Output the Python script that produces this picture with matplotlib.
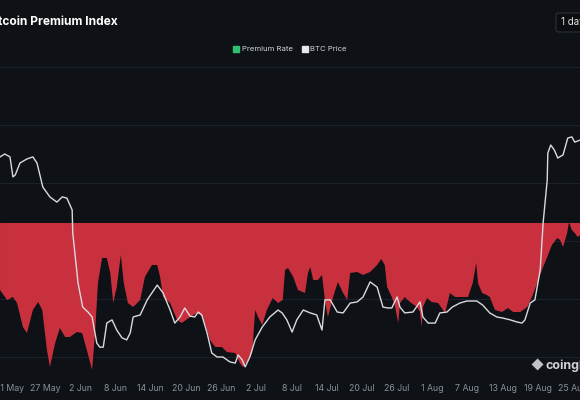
import matplotlib
matplotlib.use("Agg")
import matplotlib.pyplot as plt
from matplotlib.lines import Line2D
from matplotlib.patches import FancyBboxPatch
import numpy as np
import pandas as pd

plt.rcParams['font.family'] = ['Inter', 'DejaVu Sans']

start = pd.Timestamp("2024-05-21")

# premium rate (%), x = days after 21 May
premium_days = [-1.7, -0.5, 0.5, 1.2, 2.2, 2.9, 3.9, 4.8, 5.5, 6.3, 6.8, 7.7, 8.5, 9.4,
                10.2, 11.4, 12.3, 13.1, 14.0, 14.5, 15.0, 15.7, 16.5, 17.1, 17.6, 18.2,
                18.9, 19.4, 20.1, 21.0, 22.2, 23.0, 24.2, 25.1, 25.6, 26.1, 27.3, 28.5,
                29.3, 30.7, 31.9, 32.9, 34.1, 35.0, 36.1, 37.0, 38.4, 39.2, 39.7, 40.6,
                41.3, 41.8, 42.3, 43.0, 43.8, 44.8, 45.7, 46.5, 46.9, 47.4, 48.3, 49.1,
                50.3, 50.8, 51.2, 51.7, 52.5, 53.2, 53.7, 54.2, 55.1, 55.9, 56.8, 57.5,
                58.0, 59.2, 60.2, 61.4, 62.6, 63.3, 63.9, 64.3, 65.1, 65.6, 66.2, 66.5,
                67.3, 68.2, 69.4, 69.9, 70.2, 70.4, 71.1, 71.9, 73.0, 74.2, 75.0, 75.9,
                77.1, 78.1, 78.9, 79.5, 79.8, 80.5, 81.3, 81.8, 82.7, 83.9, 84.9, 85.8,
                87.0, 88.2, 89.0, 89.9, 90.7, 91.6, 92.4, 93.3, 93.8, 94.3, 95.0, 95.3,
                95.8, 96.3, 96.8, 97.2]
premium_rate = [-0.067, -0.077, -0.074, -0.080, -0.104, -0.110, -0.087, -0.079, -0.087,
                -0.127, -0.144, -0.120, -0.105, -0.114, -0.114, -0.109, -0.110, -0.127,
                -0.147, -0.110, -0.060, -0.035, -0.035, -0.050, -0.080, -0.064, -0.032,
                -0.060, -0.080, -0.084, -0.077, -0.054, -0.042, -0.042, -0.054, -0.074,
                -0.080, -0.097, -0.100, -0.094, -0.090, -0.094, -0.117, -0.124, -0.124,
                -0.129, -0.130, -0.140, -0.144, -0.137, -0.130, -0.087, -0.094, -0.102,
                -0.087, -0.075, -0.080, -0.077, -0.047, -0.045, -0.054, -0.067, -0.070,
                -0.050, -0.044, -0.057, -0.057, -0.052, -0.077, -0.094, -0.074, -0.059,
                -0.070, -0.077, -0.050, -0.049, -0.052, -0.049, -0.042, -0.036, -0.042,
                -0.064, -0.074, -0.082, -0.100, -0.080, -0.074, -0.079, -0.084, -0.089,
                -0.104, -0.084, -0.075, -0.079, -0.080, -0.090, -0.070, -0.074, -0.074,
                -0.074, -0.060, -0.040, -0.060, -0.070, -0.072, -0.074, -0.087, -0.089,
                -0.085, -0.089, -0.089, -0.084, -0.074, -0.060, -0.047, -0.034, -0.022,
                -0.015, -0.017, -0.024, -0.010, 0.001, -0.007, -0.010, -0.014, -0.012]

# BTC price (USD)
price_days = [-1.7, -0.9, 0.0, 0.5, 0.9, 1.7, 2.9, 3.9, 4.6, 5.6, 6.8, 8.0, 8.9, 9.7,
              10.6, 10.7, 11.6, 12.4, 13.3, 14.0, 14.8, 15.3, 15.9, 16.5, 17.4, 18.2,
              19.1, 19.9, 20.5, 21.0, 22.2, 23.4, 25.1, 26.1, 27.3, 28.1, 29.0, 29.8,
              30.7, 31.5, 32.1, 32.7, 33.6, 34.4, 35.3, 36.3, 37.5, 38.4, 38.9, 39.6,
              40.1, 40.9, 41.8, 43.0, 44.3, 45.7, 46.4, 47.2, 48.1, 48.9, 50.0, 51.2,
              52.3, 53.2, 53.7, 54.6, 55.8, 56.8, 58.0, 59.2, 60.2, 61.4, 62.6, 63.6,
              64.5, 65.1, 66.0, 66.5, 67.3, 68.7, 69.9, 70.4, 71.3, 72.5, 73.3, 74.5,
              75.4, 76.7, 77.9, 79.6, 80.6, 81.8, 83.0, 84.1, 85.3, 86.4, 87.3, 87.8,
              88.7, 89.5, 90.4, 90.9, 91.6, 91.7, 92.2, 92.8, 93.4, 94.3, 95.1, 95.8,
              96.3, 97.2]
btc_price = [64900, 65000, 64900, 64210, 64280, 64690, 64830, 64900, 64690, 63860, 63520,
             63340, 63520, 63480, 63070, 62280, 60550, 59720, 59550, 59380, 58480, 58340,
             58340, 59170, 59280, 58930, 58660, 58590, 58830, 59380, 59450, 59970, 60480,
             60210, 59620, 59170, 59380, 59690, 59410, 59380, 59550, 59450, 58830, 58140,
             58000, 58000, 57830, 57790, 58070, 57900, 57660, 58000, 58590, 59030, 59380,
             59620, 59520, 59280, 58860, 59280, 59620, 59520, 59450, 58930, 59970, 59970,
             59550, 59520, 59860, 59900, 60070, 60590, 60410, 59720, 59690, 59690, 60070,
             59720, 59520, 59550, 59900, 59380, 59170, 59170, 59520, 59550, 59720, 59860,
             59930, 59930, 59790, 59520, 59380, 59340, 59280, 59210, 59170, 59280, 59860,
             59970, 61000, 62620, 64100, 65030, 65310, 65140, 64860, 64970, 65550, 65590,
             65410, 65480]

tick_labels = ["21 May", "27 May", "2 Jun", "8 Jun", "14 Jun", "20 Jun", "26 Jun",
               "2 Jul", "8 Jul", "14 Jul", "20 Jul", "26 Jul", "1 Aug", "7 Aug",
               "13 Aug", "19 Aug", "25 Aug"]
price_ticks = [58000, 60000, 62000, 64000, 66000, 68000]

bg = "#0e1116"
red = "#c9303e"
green = "#2fbf71"
line_col = "#d8dadd"
grid_col = "#1d222a"

fig = plt.figure(figsize=(5.8, 4), dpi=100, facecolor=bg)
ax = fig.add_axes([0, 0.06, 1, 0.79])
ax.set_facecolor(bg)
ax2 = ax.twinx()

px = lambda d: start + pd.to_timedelta(np.asarray(d), unit="D")
prem = np.array(premium_rate)
xp = px(premium_days)

prem_lim = (-0.153, 0.163)
price_lim = (57344.8, 68241.4)

# grid of the price axis, drawn under the fill
grid_vals = [prem_lim[0] + (p - price_lim[0]) / (price_lim[1] - price_lim[0]) * (prem_lim[1] - prem_lim[0])
             for p in price_ticks]
for g in grid_vals:
    ax.axhline(g, color=grid_col, lw=0.8, zorder=0)

ax.fill_between(xp, prem, 0, where=prem <= 0, interpolate=True, color=red, lw=0, zorder=2)
ax.fill_between(xp, prem, 0, where=prem >= 0, interpolate=True, color=green, lw=0, zorder=2)
ax.set_ylim(*prem_lim)

ax2.plot(px(price_days), btc_price, color=line_col, lw=1.0, solid_joinstyle="round")
ax2.set_ylim(*price_lim)

ax.set_xlim(start - pd.Timedelta(days=1.705), start + pd.Timedelta(days=97.19))
ax.set_xticks(px([6 * i for i in range(len(tick_labels))]))
ax.set_xticklabels(tick_labels)
ax.tick_params(axis="x", length=0, pad=6, labelsize=6.3, colors="#8b9099")
for a in (ax, ax2):
    a.set_yticks([])
    for s in a.spines.values():
        s.set_visible(False)

# title and controls
fig.text(-0.022, 0.945, "Bitcoin Premium Index", color="white", fontsize=8.6,
         fontweight="bold", va="center", ha="left")
box = FancyBboxPatch((556 / 580, 1 - 32 / 400), 0.1, 19 / 400, transform=fig.transFigure,
                     boxstyle="round,pad=0,rounding_size=0.006", fc="#0b0d11",
                     ec="#2c3139", lw=0.8)
fig.patches.append(box)
fig.text(561 / 580, 1 - 22 / 400, "1 day", color="#e6e6e6", fontsize=7, va="center")

handles = [Line2D([], [], marker="s", ls="", color=green, markersize=4.5),
           Line2D([], [], marker="s", ls="", color="#e8e8e8", markersize=4.5)]
fig.legend(handles, ["Premium Rate", "BTC Price"], loc="center", bbox_to_anchor=(0.5, 1 - 49 / 400),
           ncol=2, frameon=False, fontsize=5.6, labelcolor="#d0d3d8", handlelength=0.8,
           handletextpad=0.3, columnspacing=1.2)

# watermark
fig.text(537 / 580, 1 - 366 / 400, "\u25C6", color="#bfc3c8", fontsize=9, va="center", ha="center")
fig.text(545 / 580, 1 - 366 / 400, "coinglass", color="#cfd2d6", fontsize=9,
         fontweight="bold", va="center", ha="left")

fig.savefig("out.png", dpi=100, facecolor=bg)
